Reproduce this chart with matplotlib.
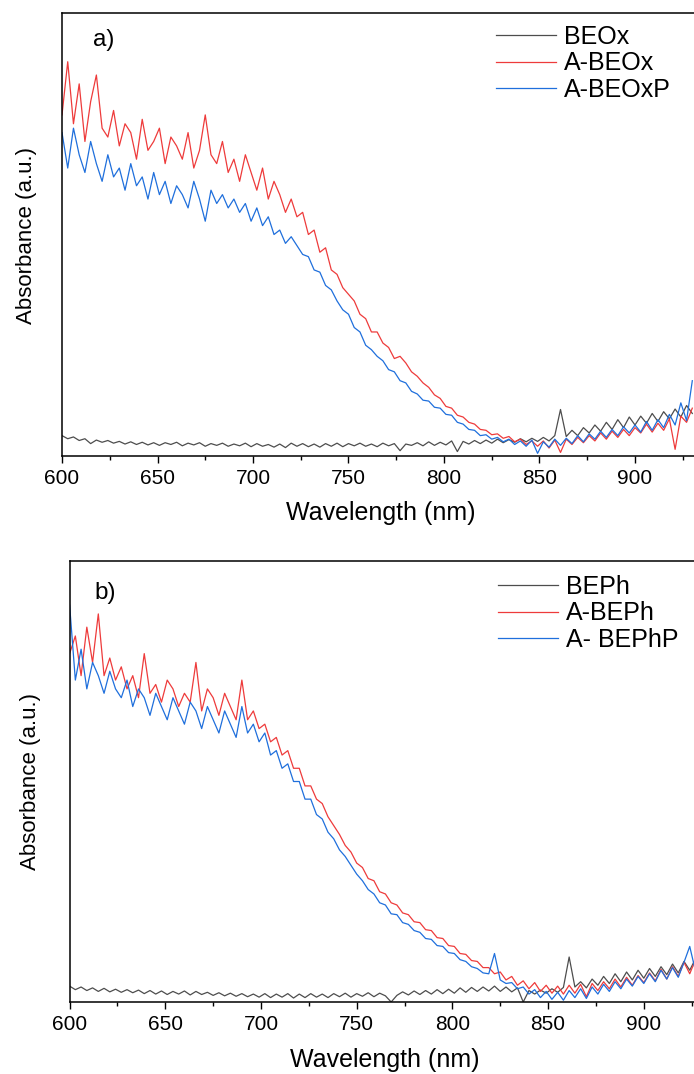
import numpy as np
import matplotlib

matplotlib.use("Agg")
import matplotlib.pyplot as plt
from matplotlib.ticker import MultipleLocator

plt.rcParams["font.family"] = ["Liberation Sans", "DejaVu Sans"]

W, H = 694, 1074

# wavelength grid (nm), one sample every 3 nm
wavelength = np.arange(600, 931, 3)

# panel a) absorbance, a.u. (0 = bottom of axis, 100 = top)
beox = [
    4.6, 3.9, 4.3, 3.5, 3.9, 2.8, 3.6, 3.1, 3.5, 2.9,
    3.3, 2.7, 3.2, 2.6, 3.1, 2.5, 3.0, 2.4, 3.0, 2.6,
    3.1, 2.3, 2.9, 2.5, 3.0, 2.2, 2.8, 2.4, 2.9, 2.2,
    2.7, 2.3, 2.9, 2.1, 2.8, 2.2, 2.6, 2.0, 2.7, 1.9,
    2.9, 2.2, 2.8, 2.1, 2.7, 2.0, 2.8, 2.2, 2.9, 2.1,
    2.8, 2.3, 2.9, 2.2, 2.7, 2.1, 2.9, 2.3, 2.8, 1.2,
    2.7, 2.4, 3.0, 2.3, 3.2, 2.4, 3.1, 2.5, 3.4, 1.0,
    3.3, 2.7, 3.5, 2.8, 3.6, 2.9, 3.8, 3.0, 3.7, 3.1,
    3.9, 3.2, 4.0, 3.3, 4.2, 3.4, 4.6, 10.5, 4.4, 5.8,
    4.6, 6.4, 5.2, 7.0, 5.6, 7.6, 6.0, 8.2, 6.4, 8.8,
    7.0, 9.0, 7.4, 9.6, 7.8, 10.0, 8.4, 10.6, 8.8, 11.4,
    9.6,
]
a_beox = [
    77, 89, 75, 84, 71, 80, 86, 74, 72, 78,
    70, 75, 73, 67, 76, 69, 71, 74, 66, 72,
    70, 67, 73, 65, 69, 77, 68, 66, 71, 64,
    67, 62, 68, 64, 60, 65, 58, 62, 59, 55,
    58, 54, 55, 50, 51, 46, 47, 42, 41, 38,
    36.5, 35, 32, 31, 28, 28, 25.5, 24.5, 22, 22.5,
    21, 19, 18, 16.5, 15.5, 13.8, 13, 11.2, 10.8, 9.2,
    8.8, 7.6, 7.2, 6.0, 5.8, 4.8, 5.0, 4.0, 4.4, 3.2,
    3.8, 2.6, 3.4, 2.2, 3.4, 1.8, 3.6, 0.8, 3.8, 2.6,
    4.2, 3.0, 4.6, 3.4, 5.2, 3.8, 5.6, 4.2, 6.0, 4.6,
    6.4, 5.2, 7.2, 5.4, 7.4, 5.8, 8.4, 1.5, 9.0, 7.6,
    10.8,
]
a_beoxp = [
    73, 65, 74, 68, 64, 71, 66, 62, 68, 63,
    65, 60, 66, 61, 63, 58, 64, 59, 62, 57,
    61, 59, 56, 62, 58, 53, 60, 57, 59, 56,
    58, 55, 57, 53, 56, 52, 54, 50, 51, 48,
    49.5, 47.5, 45.5, 45, 42, 41.5, 38.5, 37.5, 35, 33,
    32, 29, 28, 25, 24, 22.5, 21.5, 19.5, 19, 17,
    16.5, 14.6, 14, 12.6, 12.4, 11, 10.8, 9.4, 9.2, 7.6,
    7.2, 6.0, 5.8, 4.6, 4.8, 3.8, 4.2, 3.2, 3.8, 2.6,
    3.4, 2.2, 3.6, 0.6, 3.2, 2.0, 3.8, 2.4, 4.0, 2.8,
    4.6, 3.2, 5.0, 3.8, 5.6, 4.2, 6.0, 4.6, 6.6, 5.2,
    7.0, 5.4, 7.8, 5.8, 8.2, 6.4, 9.4, 7.0, 12.0, 8.0,
    17.0,
]

# panel b)
beph = [
    3.6, 2.8, 3.4, 2.6, 3.2, 2.4, 3.1, 2.3, 2.9, 2.2,
    2.8, 2.1, 2.7, 1.9, 2.6, 1.8, 2.5, 1.7, 2.4, 1.8,
    2.5, 1.6, 2.4, 1.7, 2.2, 1.5, 2.1, 1.4, 2.0, 1.3,
    1.9, 1.2, 1.8, 1.1, 1.9, 1.0, 1.8, 1.1, 1.9, 0.9,
    1.8, 1.0, 1.9, 1.1, 1.8, 1.0, 1.9, 1.2, 2.0, 1.1,
    1.9, 1.3, 2.1, 1.2, 2.0, 1.4, 0.0, 1.5, 2.3, 1.6,
    2.5, 1.7, 2.6, 1.8, 2.8, 1.9, 2.9, 2.0, 3.2, 2.2,
    3.3, 2.4, 3.4, 2.5, 3.6, 2.4, 3.4, 2.3, 3.2, 0.0,
    2.6, 1.8, 2.7, 2.0, 3.0, 2.2, 3.3, 10.2, 3.4, 4.6,
    3.2, 5.2, 3.8, 5.8, 4.2, 6.4, 4.6, 6.8, 5.0, 7.2,
    5.4, 7.6, 5.8, 8.0, 6.2, 8.6, 6.6, 9.2, 7.2, 9.8,
    8.0,
]
a_beph = [
    79, 83, 74, 85, 77, 88, 74, 78, 73, 76,
    71, 74, 69, 79, 70, 72, 68, 73, 71, 67,
    70, 68, 77, 66, 71, 69, 65, 70, 67, 64,
    73, 64, 66, 62, 63, 59, 60, 56, 57, 53,
    53, 49, 49, 46, 45, 42, 40, 38, 35.5, 34,
    31.5, 30.5, 28, 27.5, 25, 24.5, 22.5, 22, 20.2, 19.8,
    18.2, 18.0, 16.4, 16.2, 14.6, 14.4, 12.8, 12.6, 11.0, 10.8,
    9.4, 9.2, 7.8, 7.8, 6.4, 6.8, 5.0, 5.8, 3.8, 4.8,
    3.0, 4.4, 2.4, 3.8, 2.0, 3.6, 1.8, 3.8, 2.0, 4.0,
    1.2, 4.2, 2.6, 4.6, 3.0, 5.2, 3.4, 5.6, 3.8, 6.0,
    4.4, 6.6, 4.8, 7.4, 5.2, 8.0, 5.8, 9.0, 6.4, 9.6,
    7.4,
]
a_bephp = [
    90, 73, 80, 71, 77, 74, 70, 75, 71, 69,
    73, 67, 71, 69, 65, 70, 67, 64, 69, 66,
    63, 68, 66, 62, 67, 64, 61, 66, 63, 60,
    67, 61, 63, 59, 61, 56, 57, 53, 54, 50,
    50, 46, 46, 42.5, 41.5, 38.5, 37, 34.5, 33, 31,
    29, 27.5, 25.5, 24.5, 22.5, 22, 20, 19.8, 18, 17.6,
    16.2, 15.8, 14.4, 14.2, 12.8, 12.6, 11.2, 11.0, 9.6, 9.2,
    8.0, 7.6, 6.6, 6.4, 11.0, 5.0, 4.2, 4.4, 3.0, 3.4,
    1.8, 2.8, 1.0, 2.4, 0.6, 2.2, 0.4, 2.6, 1.0, 3.0,
    0.8, 3.4, 1.8, 4.0, 2.4, 4.6, 3.0, 5.2, 3.6, 5.8,
    4.2, 6.4, 4.6, 7.2, 5.2, 7.8, 5.6, 9.0, 12.6, 7.0,
    10.0,
]

GRAY = "#4d4d4d"
RED = "#ee3b3b"
BLUE = "#1f6fdc"


def px(x, y):
    return x / W, 1 - y / H


def panel(fig, left, top, bottom, ppn, series, labels, tag, tag_xy, leg_xy, xlab_xy, ylab_xy):
    x0, y1 = px(left, top)
    _, y0 = px(left, bottom)
    width = 340 * ppn / W
    ax = fig.add_axes([x0, y0, width, y1 - y0])
    for values, color, label in zip(series, [GRAY, RED, BLUE], labels):
        ax.plot(wavelength, values, color=color, lw=0.9, label=label)
    ax.set_xlim(600, 940)
    ax.set_ylim(0, 100)
    ax.xaxis.set_major_locator(MultipleLocator(50))
    ax.xaxis.set_minor_locator(MultipleLocator(25))
    ax.tick_params(axis="x", which="major", direction="out", length=5, width=1.0, labelsize=15, pad=4)
    ax.tick_params(axis="x", which="minor", direction="out", length=3, width=1.0)
    ax.set_yticks([])
    for side in ("left", "top", "bottom", "right"):
        ax.spines[side].set_linewidth(1.1)
    ax.text(tag_xy[0], tag_xy[1], tag, fontsize=17.5, ha="left", va="center")
    ax.legend(loc="upper left", bbox_to_anchor=px(*leg_xy), bbox_transform=fig.transFigure,
              frameon=False, fontsize=18, handlelength=2.4, handletextpad=0.32,
              labelspacing=0.1, borderpad=0, borderaxespad=0)
    fig.text(*px(*xlab_xy), "Wavelength (nm)", fontsize=18, ha="center", va="center")
    fig.text(*px(*ylab_xy), "Absorbance (a.u.)", fontsize=16, ha="center", va="center", rotation=90)
    return ax


fig = plt.figure(figsize=(W / 100, H / 100), dpi=100)
fig.patch.set_facecolor("white")

panel(fig, 62, 13, 456, 1.91, [beox, a_beox, a_beoxp], ["BEOx", "A-BEOx", "A-BEOxP"],
      "a)", (616, 94), (496, 25), (381, 513), (27, 236))
panel(fig, 69.6, 561, 1002, 1.914, [beph, a_beph, a_bephp], ["BEPh", "A-BEPh", "A- BEPhP"],
      "b)", (613, 92.7), (498, 575), (385, 1060), (31, 781))

fig.savefig("out.png", dpi=100, facecolor="white")
